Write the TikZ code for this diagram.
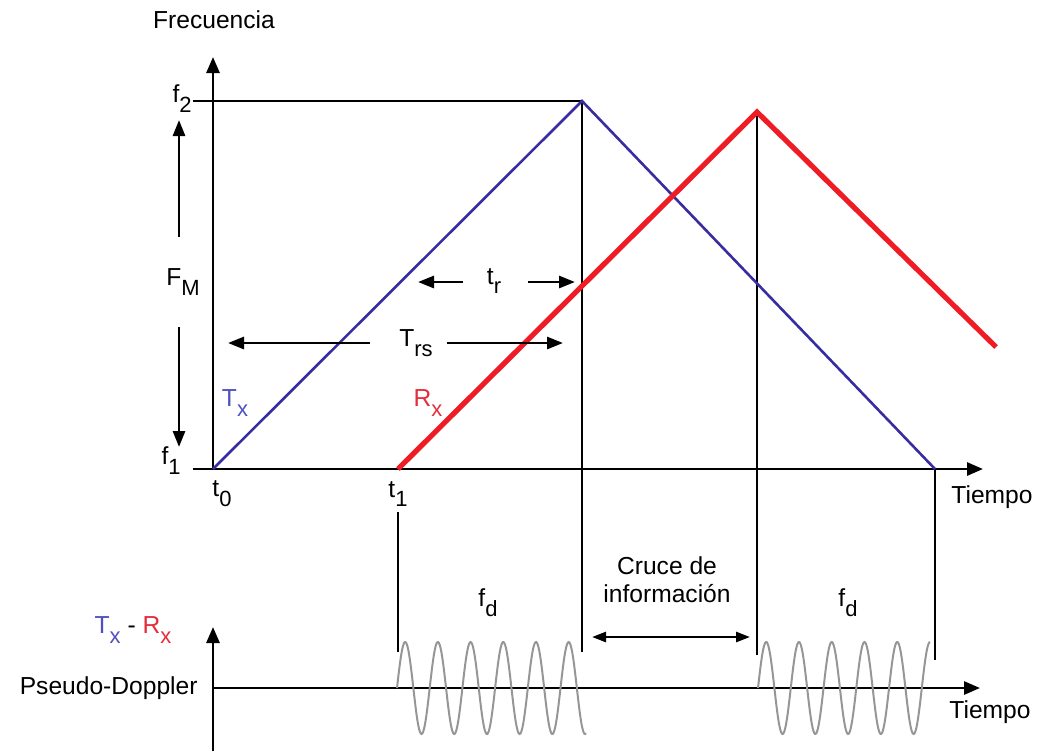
\documentclass[tikz,border=0pt]{standalone}
\usepackage{fontspec}
\setmainfont{Liberation Sans}
\usetikzlibrary{arrows.meta}
\newcommand\lsub[1]{\raisebox{-0.4em}{\fontsize{11}{12}\selectfont #1}}
\definecolor{txblue}{RGB}{55,45,160}
\definecolor{rxred}{RGB}{238,28,36}
\definecolor{labblue}{RGB}{80,80,190}
\definecolor{labred}{RGB}{228,45,60}
\definecolor{wavegray}{RGB}{150,150,150}
\begin{document}
\begin{tikzpicture}[x=0.5pt,y=-0.5pt,
  lbl/.style={font=\fontsize{12.3}{14}\selectfont, inner sep=0pt},
  axis/.style={line width=1.4pt, -{Triangle[length=8pt,width=6.5pt]}},
  dim/.style={line width=1.4pt, -{Triangle[length=8pt,width=6pt]}},
  guide/.style={line width=1.2pt},
  wave/.style={wavegray, line width=1pt, smooth, samples=240}]
\useasboundingbox (0,0) rectangle (1037,751);
% key points
\coordinate (o) at (213,469);
\coordinate (ytop) at (213,57);
\coordinate (xl) at (193,469);
\coordinate (xr) at (983,469);
\coordinate (f2l) at (193,101);
\coordinate (bpk) at (582,101);
\coordinate (bend) at (935,469);
\coordinate (rst) at (398,469);
\coordinate (rpk) at (757,112);
\coordinate (rend) at (996,347);
\coordinate (v1b) at (582,652);
\coordinate (v2b) at (757,655);
\coordinate (v3b) at (935,660);
\coordinate (v0t) at (398,512);
\coordinate (v0b) at (398,652);
\coordinate (lyb) at (213,751);
\coordinate (lyt) at (213,627);
\coordinate (lo) at (213,688);
\coordinate (lxr) at (980,688);
% upper axes
\draw[axis] (o) -- (ytop);
\draw[axis] (xl) -- (xr);
\draw[guide] (f2l) -- (bpk);
% guide verticals
\draw[guide] (bpk) -- (v1b);
\draw[guide] (rpk) -- (v2b);
\draw[guide] (bend) -- (v3b);
\draw[guide] (v0t) -- (v0b);
% triangles
\draw[txblue, line width=1.3pt, line join=miter] (o) -- (bpk) -- (bend);
\draw[rxred, line width=2.6pt, line join=miter] (rst) -- (rpk) -- (rend);
% lower axes
\draw[axis] (lyb) -- (lyt);
\draw[axis] (lo) -- (lxr);
% waves
\draw[wave, domain=397:586] plot (\x, {688 - 46*sin((\x-397)*11.0092)});
\draw[wave, domain=758:930] plot (\x, {688 - 46*sin((\x-758)*10.989)});
% FM arrows
\coordinate (fma) at (179,237);
\coordinate (fmb) at (179,120);
\coordinate (fmc) at (179,327);
\coordinate (fmd) at (179,447);
\draw[dim] (fma) -- (fmb);
\draw[dim] (fmc) -- (fmd);
% tr arrows
\coordinate (tra) at (463,282);
\coordinate (trb) at (418,282);
\coordinate (trc) at (528,282);
\coordinate (trd) at (575,282);
\draw[dim] (tra) -- (trb);
\draw[dim] (trc) -- (trd);
% Trs arrows
\coordinate (tsa) at (370,343);
\coordinate (tsb) at (228,343);
\coordinate (tsc) at (447,343);
\coordinate (tsd) at (563,343);
\draw[dim] (tsa) -- (tsb);
\draw[dim] (tsc) -- (tsd);
% cruce arrow
\coordinate (cra) at (592,637);
\coordinate (crb) at (750,637);
\draw[line width=1.3pt, {Triangle[length=7pt,width=5pt]}-{Triangle[length=7pt,width=5pt]}] (cra) -- (crb);
% labels
\node[lbl] (frec) at (214,20) {Frecuencia};
\node[lbl, anchor=east] (f2) at (192,99) {f\lsub{2}};
\node[lbl, anchor=east] (f1) at (181,461) {f\lsub{1}};
\node[lbl] (t0) at (222,494) {t\lsub{0}};
\node[lbl] (t1) at (398,494) {t\lsub{1}};
\node[lbl] (fm) at (183,282) {F\lsub{M}};
\node[lbl] (tr) at (494,281) {t\lsub{r}};
\node[lbl] (trs) at (416,343) {T\lsub{rs}};
\node[lbl, labblue] (tx) at (235,403) {T\lsub{x}};
\node[lbl, labred] (rx) at (428,403) {R\lsub{x}};
\node[lbl] (tiempo1) at (992,497) {Tiempo};
\node[lbl] (tiempo2) at (990,712) {Tiempo};
\node[lbl, align=center] (cruce) at (667,580) {Cruce de\\información};
\node[lbl] (fd1) at (488,603) {f\lsub{d}};
\node[lbl] (fd2) at (848,603) {f\lsub{d}};
\node[lbl] (txrx) at (133,630) {\textcolor{labblue}{T\lsub{x}} - \textcolor{labred}{R\lsub{x}}};
\node[lbl, anchor=east] (pd) at (198,688) {Pseudo-Doppler};
\end{tikzpicture}
\end{document}
